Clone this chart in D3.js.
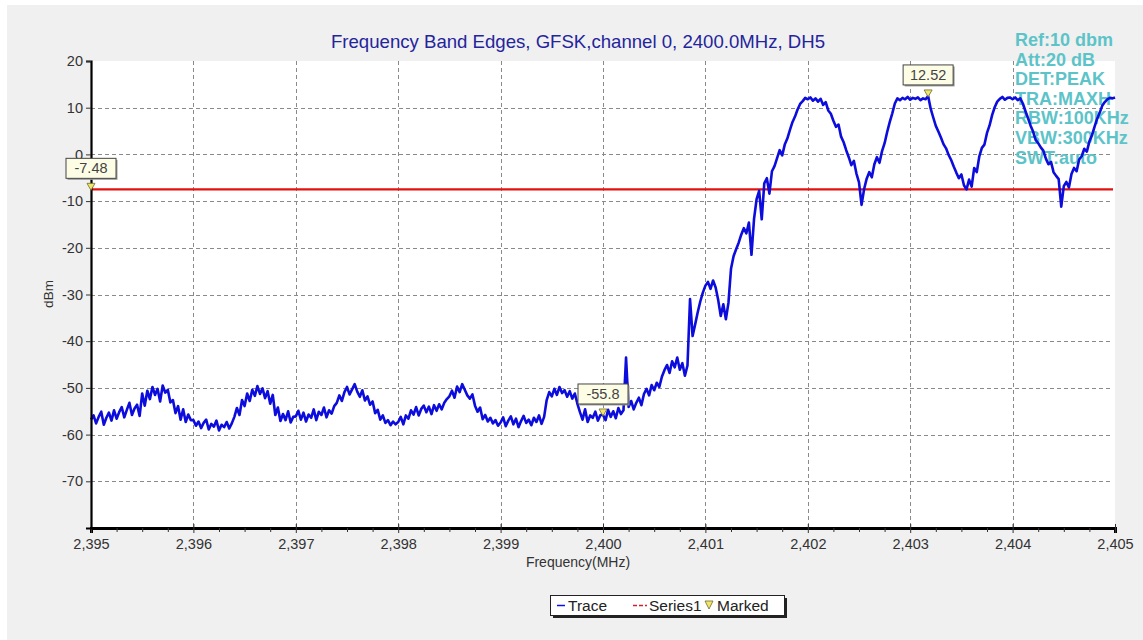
<!DOCTYPE html>
<html>
<head>
<meta charset="utf-8">
<script src="https://cdn.jsdelivr.net/npm/d3@7/dist/d3.min.js"></script>
<style>
  html, body { margin: 0; padding: 0; background: #ffffff; }
  svg { display: block; }
  text { font-family: "Liberation Sans", Arial, sans-serif; }
</style>
</head>
<body>
<svg id="chart" width="1143" height="640"></svg>
<script>
// ---------------- DATA ----------------
const chartTitle = "Frequency Band Edges, GFSK,channel 0, 2400.0MHz, DH5";
const xLabel = "Frequency(MHz)";
const yLabel = "dBm";
const xTicks = [2395, 2396, 2397, 2398, 2399, 2400, 2401, 2402, 2403, 2404, 2405];
const yTicks = [20, 10, 0, -10, -20, -30, -40, -50, -60, -70];
const infoLines = ["Ref:10 dbm", "Att:20 dB", "DET:PEAK", "TRA:MAXH", "RBW:100KHz", "VBW:300KHz", "SWT:auto"];
const legendItems = ["Trace", "Series1", "Marked"];

const freqStart = 2395;
const freqStep = 0.025; // MHz between trace samples

// trace samples (dBm), one array per MHz, 40 samples each
const trace2395 = [-56.8, -55.9, -57.6, -56.2, -55.1, -57.9, -56.4, -55.3, -57.0, -54.8, -56.6, -55.2,
  -54.1, -56.3, -54.7, -53.2, -55.8, -54.4, -53.6, -56.0,
  -51.2, -53.8, -50.6, -52.4, -49.8, -51.5, -50.2, -52.9, -49.5, -51.0, -50.4, -53.1,
  -52.6, -55.4, -53.9, -56.8, -54.6, -57.3, -55.7, -56.9];
const trace2396 = [-56.9, -58.1, -57.2, -58.6, -57.5, -56.8, -58.9, -57.7, -58.3, -57.0, -59.1, -57.9, -58.4, -57.3, -58.7, -57.6,
  -56.2, -54.3, -55.8, -52.6, -53.9, -51.2, -52.8, -50.4, -51.7, -49.6, -51.3, -50.1, -52.2, -50.7, -53.4, -51.5,
  -55.8, -54.2, -57.1, -55.6, -56.9, -55.0, -57.4, -56.2];
const trace2397 = [-56.1, -54.9, -56.8, -55.3, -57.2, -55.7, -56.4, -54.6, -56.9, -55.1, -55.8, -54.2, -56.3, -54.8, -55.5, -53.9,
  -53.2, -51.6, -52.8, -50.9, -49.8, -51.4, -50.3, -49.2, -50.8, -51.9, -50.5, -52.7,
  -51.8, -53.6, -52.9, -55.4, -54.7, -56.8, -55.9, -57.5,
  -56.9, -58.0, -57.2, -57.8];
const trace2398 = [-57.3, -56.2, -57.8, -55.9, -56.6, -54.8, -55.7, -54.1, -55.9, -54.5, -53.8, -55.2, -54.0, -55.6, -53.7, -54.9, -53.5, -54.6, -53.2, -52.4,
  -51.8, -50.6, -52.1, -49.7, -50.9, -49.2, -50.4, -51.6,
  -52.3, -51.4, -53.8, -55.1, -54.2, -56.7, -55.8, -57.2, -56.4, -57.6, -56.9, -58.1];
const trace2399 = [-57.4, -56.3, -58.2, -57.0, -56.1, -57.8, -56.6, -58.4, -57.1, -56.0, -57.5, -56.8, -58.0, -56.4, -57.3, -55.9, -57.7, -56.2,
  -52.6, -50.9, -51.8, -50.2, -51.5, -49.8, -51.1, -50.5, -51.9, -50.7, -52.3, -51.2, -53.4,
  -55.2, -56.8, -54.6, -57.3, -55.9, -56.4, -55.1, -57.0, -55.8];
const trace2400 = [-55.8, -56.9, -54.7, -56.2, -55.0, -56.5, -54.3, -55.6, -54.8,
  -43.5,
  -54.1, -52.8, -54.6, -53.2, -52.1, -53.7,
  -51.3, -50.2, -51.6, -49.4, -50.5, -48.9, -49.8,
  -47.6, -46.2, -45.1, -46.8, -44.3, -45.6, -43.5, -46.1, -44.7, -47.4,
  -45.2, -31.0, -38.9, -36.4, -33.8, -31.5,
  -29.6];
const trace2401 = [-28.1, -27.3, -28.8, -27.0, -28.5,
  -31.2, -34.6, -32.1, -35.3, -31.8,
  -24.5, -21.8, -20.3, -18.9, -17.2, -15.8, -16.9, -14.6, -21.5, -13.8, -9.6, -7.8,
  -13.9, -6.2, -5.1, -8.4, -3.6, -2.5,
  -0.8, 0.9, -0.2, 2.1, 3.4,
  5.2, 6.9, 8.1, 9.6, 10.8, 11.4, 12.1];
const trace2402 = [11.8, 12.2, 11.5, 12.0, 11.3, 11.9,
  10.6, 11.2, 9.4, 8.7,
  7.2, 5.9, 6.4, 3.8, 2.6, 0.9,
  -0.6, -2.3, -1.4, -4.1, -6.0, -10.8, -7.4, -5.2,
  -3.8, -4.9, -2.1, -0.6, -1.8, 0.7,
  2.4, 4.8, 6.9, 8.8, 10.9,
  12.0, 11.6, 12.1, 11.8, 12.3];
const trace2403 = [11.7, 12.1, 11.9, 12.2, 11.6, 12.0, 11.8, 12.52,
  9.8, 7.9, 6.1, 4.9, 3.6, 2.2, 1.3, -0.1,
  -1.2, -2.6, -3.9, -5.1, -4.3, -6.6, -7.5, -5.4,
  -6.9, -2.9, -3.8, -0.4, 1.4,
  2.1, 4.6, 6.2, 8.4, 10.1, 11.3,
  11.9, 12.3, 11.7, 12.1, 12.2];
const trace2404 = [11.8, 12.2, 11.6, 12.0,
  10.9, 9.3, 7.8, 6.2, 4.9, 3.1, 2.4, 1.5,
  0.8, -0.9, -2.1, -1.6, -3.8, -4.6,
  -5.3, -11.2, -6.8, -5.9, -7.1,
  -4.2, -2.9, -3.6, -1.1, -0.4, 1.2, 0.6,
  2.8, 4.1, 5.9, 7.6, 8.9, 10.4, 11.2, 11.8, 12.1, 12.0];
const trace2405 = [12.2];

const limitLevel = -7.48; // Series1 (red line)
const markerFreqs = [2395, 2400, 2403.175];
const markerValues = [-7.48, -55.8, 12.52];
const markerLabels = ["-7.48", "-55.8", "12.52"];

// ---------------- CHART ----------------
const traceValues = [].concat(trace2395, trace2396, trace2397, trace2398, trace2399,
  trace2400, trace2401, trace2402, trace2403, trace2404, trace2405);
const traceData = traceValues.map((v, i) => ({ f: freqStart + i * freqStep, v: v }));

const svg = d3.select("#chart");
const W = 1143, H = 640;
const plot = { left: 91, right: 1115, top: 61, bottom: 528 };

// background
svg.append("rect").attr("x", 0).attr("y", 0).attr("width", W).attr("height", H).attr("fill", "#ffffff");
svg.append("rect").attr("x", 7).attr("y", 5).attr("width", W - 7).attr("height", H - 5).attr("fill", "#f0f0f0");
svg.append("rect").attr("x", plot.left).attr("y", plot.top)
  .attr("width", plot.right - plot.left).attr("height", plot.bottom - plot.top).attr("fill", "#ffffff");

const x = d3.scaleLinear().domain([2395, 2405]).range([plot.left, plot.right]);
const y = d3.scaleLinear().domain([-80, 20]).range([plot.bottom, plot.top]);

// grid
const grid = svg.append("g").attr("stroke", "#8a8a8a").attr("stroke-width", 1).attr("stroke-dasharray", "4,3");
grid.selectAll("line.h").data(yTicks.filter(d => d < 20)).enter().append("line")
  .attr("x1", plot.left).attr("x2", plot.right - 2)
  .attr("y1", d => Math.round(y(d)) + 0.5).attr("y2", d => Math.round(y(d)) + 0.5);
grid.selectAll("line.v").data(xTicks.filter(d => d > 2395 && d < 2405)).enter().append("line")
  .attr("x1", d => Math.round(x(d)) + 0.5).attr("x2", d => Math.round(x(d)) + 0.5)
  .attr("y1", plot.top).attr("y2", plot.bottom);

// info text (drawn under the trace)
const info = svg.append("g");
info.selectAll("text").data(infoLines).enter().append("text")
  .attr("x", 1015).attr("y", (d, i) => 46 + i * 19.6)
  .attr("font-size", 18).attr("font-weight", "bold").attr("fill", "#5cc4c8")
  .text(d => d);

// limit line
svg.append("line")
  .attr("x1", x(2395)).attr("x2", x(2405) - 2)
  .attr("y1", y(limitLevel)).attr("y2", y(limitLevel))
  .attr("stroke", "#e41010").attr("stroke-width", 2.2);

// trace
const line = d3.line().x(d => x(d.f)).y(d => y(d.v));
svg.append("path").datum(traceData)
  .attr("d", line).attr("fill", "none")
  .attr("stroke", "#0c0cdc").attr("stroke-width", 2.6).attr("stroke-linejoin", "round");

// axes
const fmtX = d3.format(",");
const xAxis = d3.axisBottom(x).tickValues(xTicks).tickFormat(d => fmtX(d)).tickSize(5).tickPadding(6);
const gx = svg.append("g").attr("transform", `translate(0,${plot.bottom})`).call(xAxis);
gx.select(".domain").attr("stroke", "#000").attr("stroke-width", 3);
gx.selectAll(".tick line").attr("stroke", "#333").attr("y1", -4);
gx.selectAll(".tick text").attr("font-size", 14.5).attr("fill", "#333").attr("font-family", "Liberation Sans, Arial, sans-serif");

const minorX = d3.range(0, 41).map(i => 2395 + i * 0.25).filter(d => !xTicks.includes(d));
const gxm = svg.append("g").attr("transform", `translate(0,${plot.bottom})`)
  .call(d3.axisBottom(x).tickValues(minorX).tickSize(4).tickFormat(""));
gxm.select(".domain").remove();
gxm.selectAll(".tick line").attr("stroke", "#333");

const yAxis = d3.axisLeft(y).tickValues(yTicks).tickFormat(d => String(d)).tickSize(5).tickPadding(3);
const gy = svg.append("g").attr("transform", `translate(${plot.left},0)`).call(yAxis);
gy.select(".domain").attr("stroke", "#000").attr("stroke-width", 2.2);
gy.selectAll(".tick line").attr("stroke", "#333");
gy.selectAll(".tick text").attr("font-size", 14.5).attr("fill", "#333").attr("font-family", "Liberation Sans, Arial, sans-serif");

// titles
svg.append("text").attr("x", 578).attr("y", 48).attr("text-anchor", "middle")
  .attr("font-size", 18.6).attr("fill", "#24249c").text(chartTitle);
svg.append("text").attr("x", 578).attr("y", 567).attr("text-anchor", "middle")
  .attr("font-size", 14).attr("fill", "#333").text(xLabel);
svg.append("text").attr("transform", "translate(53,294) rotate(-90)").attr("text-anchor", "middle")
  .attr("font-size", 13.5).attr("fill", "#333").text(yLabel);

// markers
const markers = markerFreqs.map((f, i) => ({ f: f, v: markerValues[i], label: markerLabels[i] }));
const mk = svg.append("g");
mk.selectAll("path.tri").data(markers).enter().append("path")
  .attr("d", d => {
    const cx = x(d.f), cy = y(d.v);
    return `M${cx - 4},${cy - 6} L${cx + 4},${cy - 6} L${cx},${cy + 1} Z`;
  })
  .attr("fill", "#f2e66a").attr("stroke", "#6a6a30").attr("stroke-width", 0.8);
const boxW = 50, boxH = 20;
mk.selectAll("rect.shadow").data(markers).enter().append("rect")
  .attr("x", d => x(d.f) - boxW / 2 + 1.5).attr("y", d => y(d.v) - 11 - boxH + 1.5)
  .attr("width", boxW).attr("height", boxH).attr("fill", "#9a9a9a");
mk.selectAll("rect.box").data(markers).enter().append("rect")
  .attr("x", d => x(d.f) - boxW / 2).attr("y", d => y(d.v) - 11 - boxH)
  .attr("width", boxW).attr("height", boxH)
  .attr("fill", "#fdfde6").attr("stroke", "#444").attr("stroke-width", 1);
mk.selectAll("text").data(markers).enter().append("text")
  .attr("x", d => x(d.f)).attr("y", d => y(d.v) - 11 - 5)
  .attr("text-anchor", "middle").attr("font-size", 14.5).attr("fill", "#444")
  .text(d => d.label);

// legend
const lg = svg.append("g");
lg.append("rect").attr("x", 553).attr("y", 598).attr("width", 234).attr("height", 20).attr("fill", "#222");
lg.append("rect").attr("x", 550.5).attr("y", 595.5).attr("width", 234).attr("height", 20)
  .attr("fill", "#ffffff").attr("stroke", "#222").attr("stroke-width", 1);
lg.append("line").attr("x1", 557).attr("x2", 565).attr("y1", 605.5).attr("y2", 605.5)
  .attr("stroke", "#0a10e8").attr("stroke-width", 1.5);
lg.append("text").attr("x", 568).attr("y", 611).attr("font-size", 15.5).attr("fill", "#222").text(legendItems[0]);
lg.append("line").attr("x1", 633).attr("x2", 647).attr("y1", 605.5).attr("y2", 605.5)
  .attr("stroke", "#d02030").attr("stroke-width", 1.5).attr("stroke-dasharray", "4,2");
lg.append("text").attr("x", 649).attr("y", 611).attr("font-size", 15.5).attr("fill", "#222").text(legendItems[1]);
lg.append("path").attr("d", "M705,601 L713,601 L709,609 Z")
  .attr("fill", "#f2e66a").attr("stroke", "#6a6a30").attr("stroke-width", 0.8);
lg.append("text").attr("x", 717).attr("y", 611).attr("font-size", 15.5).attr("fill", "#222").text(legendItems[2]);
</script>
</body>
</html>
